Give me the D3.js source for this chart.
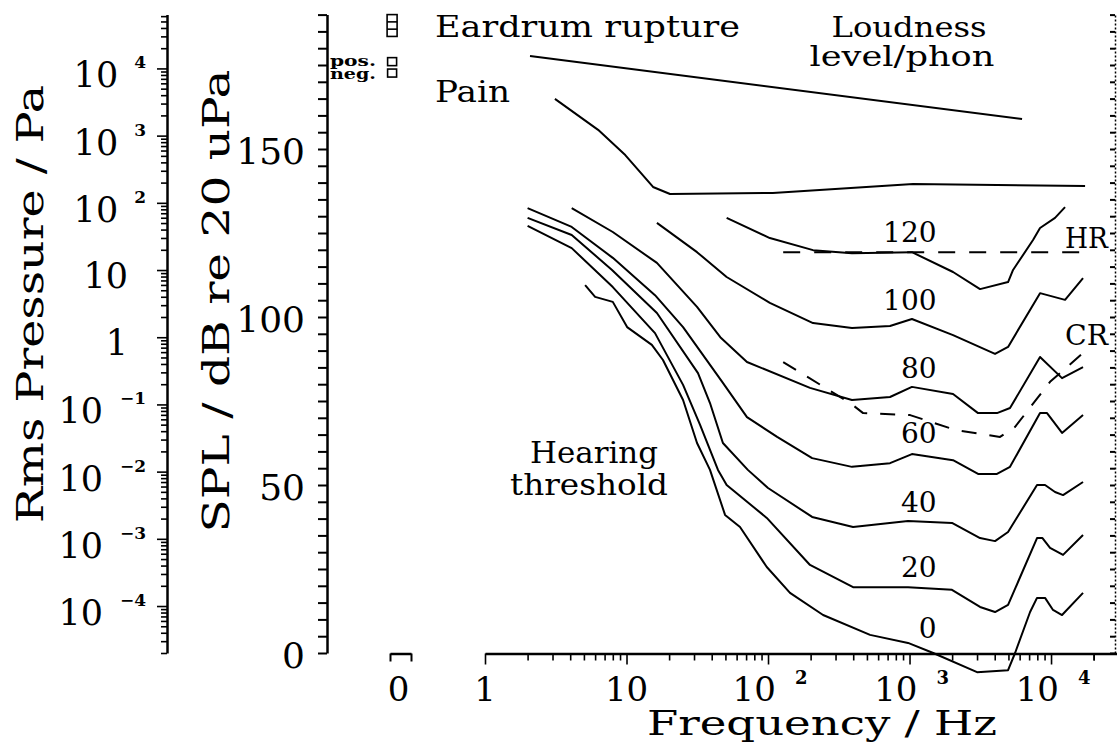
<!DOCTYPE html>
<html><head><meta charset="utf-8">
<script src="https://cdn.jsdelivr.net/npm/d3@7"></script>
<style>
body{margin:0;background:#fff;}
svg text{font-family:"DejaVu Serif",serif;fill:#000;}
</style></head><body>
<svg id="chart" width="1117" height="744"></svg>
<script>
// ---------------- data (frequency Hz, level dB SPL) ----------------
const phonLevels = [0, 20, 40, 60, 80, 100, 120];
const phonLabelDB = [4.5, 22.6, 42, 62.5, 81.8, 102, 122.3];
const phonLabelFreq = 1000;

const phon0 = [[5.1,109.5],[6,106.0],[8,104.5],[10.1,97.0],[15.1,91.7],[18.1,87.2],[25.1,75.3],[31.5,62.5],[38.9,54.5],[49.7,41.1],[63.4,37.5],[98,25.6],[143,17.9],[245,11.3],[526,5.4],[976,3.0],[1470,0],[3000,-5.7],[4970,-5.1],[5570,0],[7110,12.2],[7960,16.4],[9070,16.4],[10330,12.8],[11960,11.3],[16830,17.9]];
const phon20 = [[2,127.1],[4.1,120.5],[8,108.9],[15.9,95.2],[25.1,79.8],[33.1,67.9],[44.3,54.5],[51,50.0],[98,40.2],[198,26.2],[399,19.6],[976,19.6],[1995,18.8],[3150,13.7],[4020,12.2],[4970,14.3],[7960,34.2],[8700,34.2],[9840,31.3],[12160,29.2],[16830,35.1]];
const phon40 = [[2,129.5],[4.1,124.4],[7.9,114.0],[16.4,101.2],[32,83.3],[38.9,74.4],[48,62.5],[72,54.5],[100,49.1],[205,40.5],[399,37.5],[976,39.3],[1995,38.7],[3150,34.2],[4020,33.3],[4970,36.0],[7960,50.0],[9070,50.0],[10670,47.9],[12160,47.0],[16830,50.9]];
const phon60 = [[2,132.4],[4.1,126.8],[8,117.6],[15.9,106.5],[25.1,97.0],[48,80.4],[71,70.2],[116,64.3],[205,58.0],[392,55.4],[728,56.5],[1040,59.2],[2030,57.4],[3050,53.3],[4150,53.3],[5130,55.4],[8360,71.4],[9370,71.4],[11960,65.5],[16830,70.8]];
const phon80 = [[4.1,132.4],[8,125.3],[16.4,116.1],[31.5,103.0],[46,94.0],[71,86.6],[198,78.9],[392,75.3],[728,76.2],[1040,79.2],[2030,77.1],[3050,71.4],[4150,71.4],[5130,72.9],[8360,88.1],[11960,81.8],[16830,85.1]];
const phon100 = [[16.4,128.0],[31.5,119.3],[51,111.9],[103,104.2],[208,98.2],[392,96.7],[728,97.3],[1040,99.4],[2030,94.6],[4020,89.0],[4970,91.1],[8360,107.1],[12560,105.1],[16830,111.6]];
const phon120 = [[51,129.5],[103,123.5],[208,119.9],[392,119.0],[1040,119.3],[2030,113.4],[3150,108.3],[4970,110.4],[5390,114.0],[7460,122.9],[8360,126.5],[10670,129.5],[12560,132.7]];
const phonCurves = [phon0, phon20, phon40, phon60, phon80, phon100, phon120];

const eardrumLine = [[2.08,177.7],[6240,158.9]];
const painLine = [[3.12,164.9],[6.3,155.7],[9.8,148.2],[15.4,138.7],[20.3,136.6],[108,136.9],[1060,139.6],[17400,139.0]];
const hrLine = [[128,119.3],[17400,119.3]];
const crLine = [[128,86.6],[380,74.4],[470,71.4],[1010,70.8],[2100,66.4],[4360,64.3],[5570,67.3],[9840,80.7],[16830,89.3]];

// static pressure (frequency 0) markers
const eardrumStaticDB = [183.5, 190];
const staticLabels = ["pos.", "neg."];
const staticDB = [176.0, 172.6];

// axis ticks / labels
const splTickValues = d3.range(0, 191, 5);
const splTickLabels = [0, 50, 100, 150];
const paLabelExps = [-4, -3, -2, -1, 0, 1, 2, 3, 4];
const freqLabelExps = [0, 1, 2, 3, 4];

// ---------------- scales ----------------
const svg = d3.select("#chart");
const x = d3.scaleLog().domain([1, 29250]).range([485, 1117]);
const y = d3.scaleLinear().domain([0, 190]).range([653, 14.6]);
const pRef = 2e-5;
const yPa = d3.scaleLog().domain([pRef, pRef * Math.pow(10, 190 / 20)]).range([653, 14.6]);
const xZero = d3.scaleLinear().domain([-1, 1]).range([390, 411]);

const isDecade = v => Math.abs(Math.log10(v) - Math.round(Math.log10(v))) < 1e-6;

function styleAxis(g) {
  g.attr("font-family", "DejaVu Serif").attr("font-size", 36);
  g.select(".domain").attr("stroke-width", 2.5);
  g.selectAll(".tick line").attr("stroke-width", 2);
}

// ---------------- Pa axis ----------------
const paTicks = [];
for (let e = -5; e <= 4; e++) for (let m = 1; m <= 9; m++) {
  const v = +(m * Math.pow(10, e)).toPrecision(6);
  if (v >= yPa.domain()[0] * 0.999 && v <= yPa.domain()[1]) paTicks.push(v);
}
const gPa = svg.append("g").attr("transform", "translate(167,0)")
  .call(d3.axisLeft(yPa).tickValues(paTicks).tickSize(6).tickSizeOuter(0).tickFormat(""));
styleAxis(gPa);
gPa.selectAll(".tick line").attr("x2", d => isDecade(d) ? -10 : -6).attr("stroke-width", 1.6);

const paLab = svg.append("g").attr("font-size", 35);
paLabelExps.forEach(e => {
  const ty = yPa(Math.pow(10, e));
  if (e === 0 || e === 1) {
    paLab.append("text").attr("x", 128).attr("y", ty + 18).attr("text-anchor", "end").text(e === 0 ? "1" : "10");
  } else {
    const t = paLab.append("text").attr("x", 146).attr("y", ty + 19).attr("text-anchor", "end");
    t.append("tspan").text("10");
    t.append("tspan").attr("dx", e < 0 ? 17 : 16).attr("dy", -19).attr("font-size", 17).attr("font-weight", "bold")
      .text(e < 0 ? "\u2212" + Math.abs(e) : String(e));
  }
});

// ---------------- SPL axis ----------------
const gSpl = svg.append("g").attr("transform", "translate(327,0)")
  .call(d3.axisLeft(y).tickValues(splTickValues).tickSize(9).tickSizeOuter(0).tickPadding(13)
    .tickFormat(d => splTickLabels.includes(d) ? d : ""));
styleAxis(gSpl);
gSpl.selectAll(".tick text").attr("dy", "0.39em");

// right dotted frame
const gR = svg.append("g").attr("transform", "translate(1115,0)")
  .call(d3.axisLeft(y).tickValues(splTickValues).tickSize(5).tickSizeOuter(0).tickFormat(""));
gR.select(".domain").attr("stroke-width", 1.5).attr("stroke-dasharray", "2,2");
gR.selectAll(".tick line").attr("stroke-width", 2);

// ---------------- frequency axis ----------------
const freqTicks = [];
for (let e = 0; e <= 4; e++) for (let m = 1; m <= 9; m++) {
  const v = m * Math.pow(10, e);
  if (v <= x.domain()[1]) freqTicks.push(v);
}
freqTicks.push(20000);
const gF = svg.append("g").attr("transform", "translate(0,653.5)")
  .call(d3.axisBottom(x).tickValues(freqTicks).tickSize(7).tickSizeOuter(0).tickFormat(""));
styleAxis(gF);
gF.selectAll(".tick line").attr("y2", d => isDecade(d) ? 11 : 7).attr("stroke-width", 1.6);

// zero-frequency stub axis
const gZ = svg.append("g").attr("transform", "translate(0,653.5)")
  .call(d3.axisBottom(xZero).tickValues([-1, 1]).tickSize(8).tickSizeOuter(0).tickFormat(""));
gZ.select(".domain").attr("stroke-width", 2.5);
gZ.selectAll(".tick line").attr("stroke-width", 2);

const fLab = svg.append("g").attr("font-size", 34);
fLab.append("text").attr("x", xZero(0) - 2).attr("y", 701).attr("text-anchor", "middle").text("0");
freqLabelExps.forEach(e => {
  const tx = x(Math.pow(10, e));
  if (e <= 1) {
    fLab.append("text").attr("x", tx).attr("y", 701).attr("text-anchor", "middle").text(e === 0 ? "1" : "10");
  } else {
    const t = fLab.append("text").attr("x", tx + 2).attr("y", 701).attr("text-anchor", "middle");
    t.append("tspan").text("10");
    t.append("tspan").attr("dx", 19).attr("dy", -17).attr("font-size", 18).attr("font-weight", "bold").text(String(e));
  }
});

// ---------------- axis titles ----------------
svg.append("text").attr("transform", "translate(43,304) rotate(-90)").attr("text-anchor", "middle")
  .attr("font-size", 38).attr("textLength", 438).attr("lengthAdjust", "spacingAndGlyphs").text("Rms Pressure / Pa");
svg.append("text").attr("transform", "translate(229,301) rotate(-90)").attr("text-anchor", "middle")
  .attr("font-size", 38).attr("textLength", 463).attr("lengthAdjust", "spacingAndGlyphs").text("SPL / dB re 20 uPa");
svg.append("text").attr("x", 647).attr("y", 735).attr("font-size", 33)
  .attr("textLength", 350).attr("lengthAdjust", "spacingAndGlyphs").text("Frequency / Hz");

// ---------------- curves ----------------
const line = d3.line().x(d => x(d[0])).y(d => y(d[1]));
const curves = svg.append("g").attr("fill", "none").attr("stroke", "#000").attr("stroke-width", 2)
  .attr("stroke-linejoin", "round");
curves.selectAll("path.phon").data(phonCurves).join("path").attr("class", "phon").attr("d", line);
curves.append("path").attr("d", line(eardrumLine));
curves.append("path").attr("d", line(painLine));
curves.append("path").attr("d", line(hrLine)).attr("stroke-dasharray", "17,14");
curves.append("path").attr("d", line(crLine)).attr("stroke-dasharray", "15,13");

// phon labels
svg.append("g").attr("font-size", 28).selectAll("text").data(phonLevels).join("text")
  .attr("x", x(phonLabelFreq) + 27).attr("y", (d, i) => y(phonLabelDB[i])).attr("text-anchor", "end").text(d => d);

// ---------------- static pressure markers ----------------
const mk = svg.append("g").attr("fill", "none").attr("stroke", "#000").attr("stroke-width", 1.6);
const xm = xZero(-0.8);
const yTop = y(eardrumStaticDB[1]), yBot = y(eardrumStaticDB[0]);
mk.append("rect").attr("x", xm - 5).attr("y", yTop).attr("width", 10).attr("height", yBot - yTop);
[1, 2].forEach(k => mk.append("line").attr("x1", xm - 5).attr("x2", xm + 5)
  .attr("y1", yTop + k * (yBot - yTop) / 3).attr("y2", yTop + k * (yBot - yTop) / 3));
mk.selectAll("rect.st").data(staticDB).join("rect").attr("class", "st")
  .attr("x", xm - 4.5).attr("y", d => y(d) - 4).attr("width", 9).attr("height", 8);
svg.append("g").attr("font-size", 15).attr("font-weight", "bold").selectAll("text").data(staticLabels).join("text")
  .attr("x", 330).attr("y", (d, i) => y(staticDB[i]) + (i === 0 ? 4 : 6)).attr("textLength", 46).attr("lengthAdjust", "spacingAndGlyphs").text(d => d);

// ---------------- annotations ----------------
const ann = svg.append("g").attr("font-size", 30);
function label(txt, xx, yy, len, anchor, size) {
  ann.append("text").attr("x", xx).attr("y", yy).attr("text-anchor", anchor || "start")
    .attr("font-size", size || 30).attr("textLength", len).attr("lengthAdjust", "spacingAndGlyphs").text(txt);
}
label("Eardrum rupture", 435, 37, 305);
label("Pain", 435, 102, 75);
label("Loudness", 909, 37, 155, "middle", 27);
label("level/phon", 902, 66, 185, "middle", 27);
label("Hearing", 594, 463, 128, "middle", 29);
label("threshold", 589, 495, 158, "middle", 29);
label("HR", 1065, 248, 43, "start", 28);
label("CR", 1065, 345, 43, "start", 28);
</script>
</body></html>
